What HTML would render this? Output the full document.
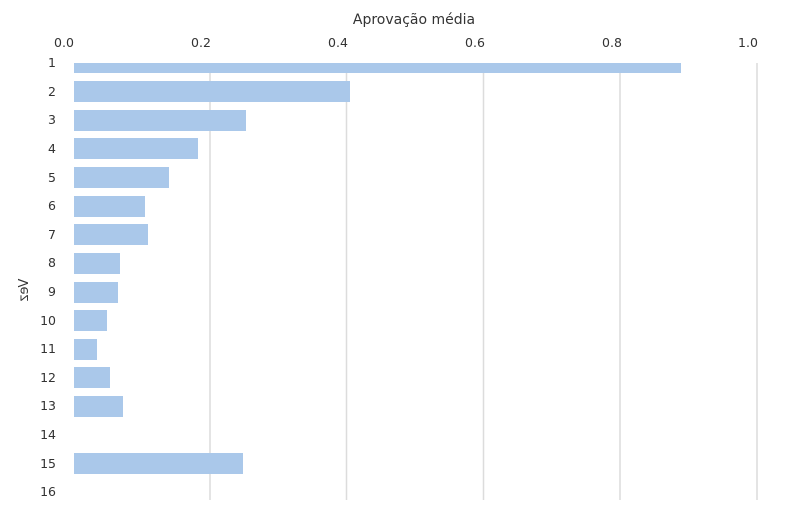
<!DOCTYPE html>
<html><head><style>body{margin:0;background:#fff}</style></head><body>
<svg width="797" height="519" xmlns="http://www.w3.org/2000/svg" font-family="'DejaVu Sans','Liberation Sans',sans-serif" fill="#333">
<text x="414" y="24" font-size="14" text-anchor="middle">Aprovação média</text>
<g font-size="12.5" text-anchor="middle">
<text x="64" y="47">0.0</text><text x="201" y="47">0.2</text><text x="338" y="47">0.4</text><text x="475" y="47">0.6</text><text x="612" y="47">0.8</text><text x="748" y="47">1.0</text>
</g>
<g stroke="#dcdcdc" stroke-width="1.5">
<line x1="210" y1="63" x2="210" y2="500"/><line x1="346.5" y1="63" x2="346.5" y2="500"/><line x1="483.5" y1="63" x2="483.5" y2="500"/><line x1="620" y1="63" x2="620" y2="500"/><line x1="757" y1="63" x2="757" y2="500"/>
</g>
<g fill="#aac8ea">
<rect x="74" y="63" width="607" height="10"/>
<rect x="74" y="81" width="276" height="21"/>
<rect x="74" y="110" width="172" height="21"/>
<rect x="74" y="138" width="124" height="21"/>
<rect x="74" y="167" width="95" height="21"/>
<rect x="74" y="196" width="71" height="21"/>
<rect x="74" y="224" width="74" height="21"/>
<rect x="74" y="253" width="46" height="21"/>
<rect x="74" y="282" width="44" height="21"/>
<rect x="74" y="310" width="33" height="21"/>
<rect x="74" y="339" width="23" height="21"/>
<rect x="74" y="367" width="36" height="21"/>
<rect x="74" y="396" width="49" height="21"/>
<rect x="74" y="453" width="169" height="21"/>
</g>
<g font-size="12.5" text-anchor="end">
<text x="56" y="67">1</text><text x="56" y="96">2</text><text x="56" y="124">3</text><text x="56" y="153">4</text><text x="56" y="182">5</text><text x="56" y="210">6</text><text x="56" y="239">7</text><text x="56" y="267">8</text><text x="56" y="296">9</text><text x="56" y="325">10</text><text x="56" y="353">11</text><text x="56" y="382">12</text><text x="56" y="410">13</text><text x="56" y="439">14</text><text x="56" y="468">15</text><text x="56" y="496">16</text>
</g>
<text transform="translate(28,290) rotate(-90) scale(-1,1)" font-size="13" text-anchor="middle">Vez</text>
</svg>
</body></html>
